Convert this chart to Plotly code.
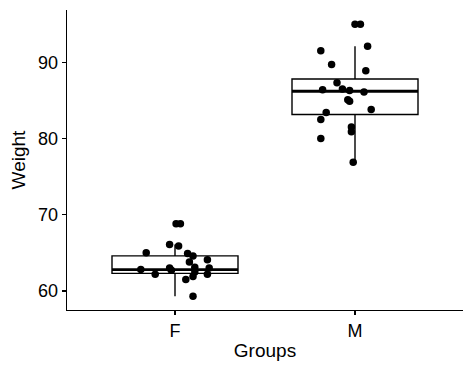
import plotly.graph_objects as go

groups = ["F", "M"]
tick_y = [60, 70, 80, 90]

f_weight = [68.8, 68.8, 66.1, 65.9, 65.0, 64.9, 64.6, 64.1, 63.8, 62.8,
            63.0, 62.7, 63.1, 62.5, 63.0, 62.2, 62.2, 61.9, 61.5, 59.3]
f_jitter = [0.006, 0.03, -0.03, 0.02, -0.16, 0.07, 0.10, 0.18, 0.08, -0.19,
            -0.03, -0.02, 0.11, 0.11, 0.19, 0.18, -0.11, 0.10, 0.06, 0.10]

m_weight = [95.0, 95.0, 91.5, 92.1, 89.7, 88.9, 87.3, 86.4, 86.5, 86.3,
            86.1, 85.1, 84.9, 83.8, 83.4, 82.5, 81.5, 80.9, 80.0, 76.9]
m_jitter = [0.0, 0.03, -0.19, 0.07, -0.13, 0.06, -0.10, -0.18, -0.07, -0.03,
            0.05, -0.04, -0.03, 0.09, -0.16, -0.19, -0.02, -0.02, -0.19, -0.01]

box_q1 = [62.3, 83.15]
box_median = [62.8, 86.2]
box_q3 = [64.6, 87.8]
box_lower = [59.3, 76.9]
box_upper = [66.1, 92.1]

BOX_W = 0.7
pos = list(range(len(groups)))

fig = go.Figure()
fig.add_trace(go.Box(
    x=pos, q1=box_q1, median=box_median, q3=box_q3,
    lowerfence=box_lower, upperfence=box_upper,
    width=BOX_W, whiskerwidth=0, fillcolor="white",
    line=dict(color="black", width=1.4), boxpoints=False,
    hoverinfo="skip", showlegend=False,
))

mx, my = [], []
for p, med in zip(pos, box_median):
    mx += [p - BOX_W / 2, p + BOX_W / 2, None]
    my += [med, med, None]
fig.add_trace(go.Scatter(x=mx, y=my, mode="lines",
                         line=dict(color="black", width=2.8),
                         hoverinfo="skip", showlegend=False))

px = [pos[0] + j for j in f_jitter] + [pos[1] + j for j in m_jitter]
py = f_weight + m_weight
fig.add_trace(go.Scatter(x=px, y=py, mode="markers",
                         marker=dict(color="black", size=7.5),
                         hoverinfo="skip", showlegend=False))

font = "Liberation Sans, Arial, sans-serif"
fig.update_layout(
    width=466, height=366,
    margin=dict(l=59, r=11, t=2, b=64),
    paper_bgcolor="white", plot_bgcolor="white",
    font=dict(family=font, color="black", size=18),
    showlegend=False,
    xaxis=dict(range=[-0.6, 1.6], tickvals=pos, ticktext=groups,
               showline=True, linecolor="black", linewidth=1.3,
               ticks="outside", ticklen=4, tickwidth=1.3, tickcolor="black",
               showgrid=False, zeroline=False,
               tickfont=dict(size=18, color="black"),
               title=dict(text="Groups", font=dict(size=19, color="black"), standoff=3)),
    yaxis=dict(range=[57.5, 96.86], tickvals=tick_y,
               showline=True, linecolor="black", linewidth=1.3,
               ticks="outside", ticklen=4, tickwidth=1.3, tickcolor="black",
               showgrid=False, zeroline=False,
               tickfont=dict(size=18, color="black"),
               title=dict(text="Weight", font=dict(size=19, color="black"), standoff=8)),
)

fig.write_html("out.html", config={"displayModeBar": False, "staticPlot": True})
